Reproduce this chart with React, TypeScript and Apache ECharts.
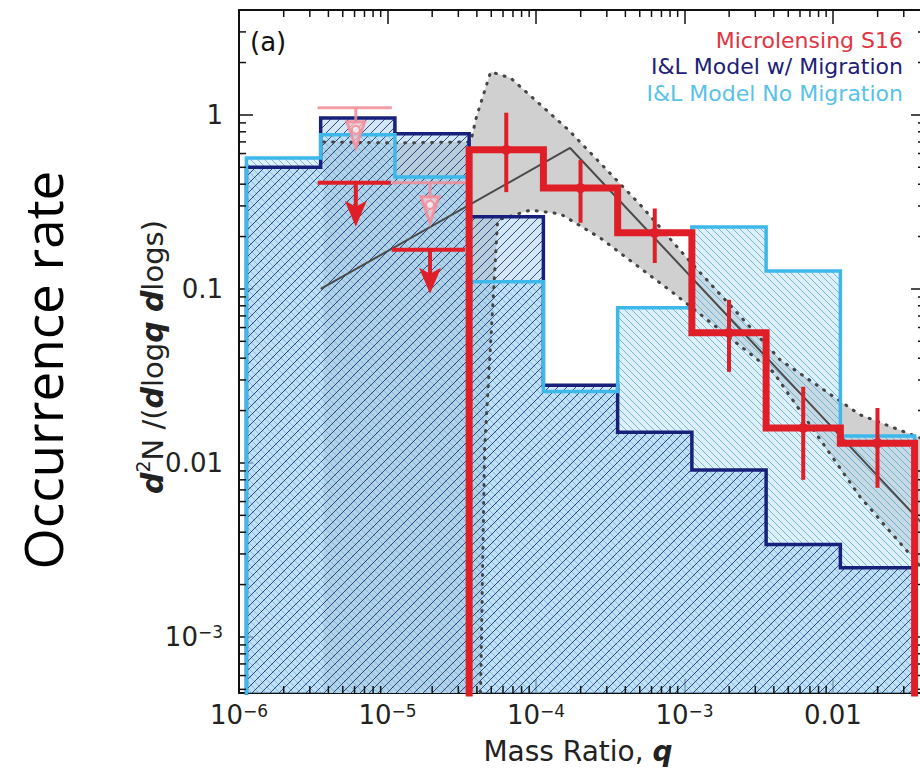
import React, { useEffect, useRef } from "react";
import * as echarts from "echarts";

// ---------------- data ----------------
// histogram bin edges, log10(q)
const binEdgesLogQ = [-5.95, -5.45, -4.95, -4.45, -3.95, -3.45, -2.95, -2.45, -1.95, -1.45];
// I&L model with migration (dark blue)
const migrationRates = [0.5, 0.96, 0.78, 0.26, 0.028, 0.015, 0.0091, 0.0034, 0.0025];
// I&L model without migration (light blue)
const noMigrationRates = [0.566, 0.77, 0.44, 0.11, 0.0257, 0.078, 0.227, 0.127, 0.0143];
// Microlensing S16 (red), starts at bin index 3
const s16FirstBin = 3;
const s16Rates = [0.63, 0.38, 0.21, 0.056, 0.0159, 0.013];
const s16ErrLow = [0.36, 0.24, 0.141, 0.0334, 0.008, 0.0072];
const s16ErrHigh = [1.03, 0.55, 0.29, 0.0866, 0.0274, 0.0207];
// upper limits (bins 1 and 2)
const limitBins = [1, 2];
const s16UpperLimits = [0.407, 0.168];
const priorUpperLimits = [1.1, 0.407];
// broken power-law fit
const fitLogQ = [-5.45, -3.77, -1.4];
const fitRates = [0.1, 0.646, 0.0045];
// 1-sigma band of the fit
const bandUpperLogQ = [-5.43, -4.95, -4.44, -4.40, -4.305, -4.171, -3.781, -3.297, -2.96, -2.355, -1.817, -1.38];
const bandUpperRates = [0.7, 0.69, 0.7, 0.98, 1.77, 1.63, 0.82, 0.304, 0.143, 0.0391, 0.0189, 0.0136];
const bandLowerLogQ = [-1.38, -1.817, -2.402, -3.075, -3.566, -3.835, -4.036, -4.258, -4.346, -4.386, -5.43];
const bandLowerRates = [0.00237, 0.00638, 0.0333, 0.0948, 0.196, 0.27, 0.284, 0.249, 0.0119, 0.0001, 0.0001];
// tick labels
const xLabelExps = [-6, -5, -4, -3, -2];
const xLabelTexts = ["10^−6", "10^−5", "10^−4", "10^−3", "0.01"];
const yLabelExps = [0, -1, -2, -3];
const yLabelTexts = ["1", "0.1", "0.01", "10^−3"];
const legendNames = ["Microlensing S16", "I&L Model w/ Migration", "I&L Model No Migration"];

// ---------------- styling ----------------
const RED = "#e01e28";
const NAVY = "#17207a";
const CYAN = "#3db8ea";
const PINK = "rgba(242,140,152,0.85)";
const FONT = "DejaVu Sans";

const pow10 = (e: number) => Math.pow(10, e);
const X_MIN = 1e-6;
const X_MAX = pow10(-1.38);
const Y_MIN = pow10(-3.322);
const Y_MAX = pow10(0.603);
const FLOOR = 1e-5;

const centerQ = (b: number) => pow10((binEdgesLogQ[b] + binEdgesLogQ[b + 1]) / 2);

function stepData(first: number, rates: number[]) {
  const pts: number[][] = [[pow10(binEdgesLogQ[first]), FLOOR]];
  rates.forEach((v, i) => {
    pts.push([pow10(binEdgesLogQ[first + i]), v]);
    pts.push([pow10(binEdgesLogQ[first + i + 1]), v]);
  });
  pts.push([pow10(binEdgesLogQ[first + rates.length]), FLOOR]);
  return pts;
}

const binRows = (rates: number[]) =>
  rates.map((v, i) => [pow10(binEdgesLogQ[i]), v, pow10(binEdgesLogQ[i + 1])]);

function hatchRender(dir: number, spacing: number, color: string, fill: string | null) {
  return (params: any, api: any) => {
    const qL = api.value(0), v = api.value(1), qR = api.value(2);
    const cs = params.coordSys;
    const pL = api.coord([qL, v]);
    const pR = api.coord([qR, v]);
    const x0 = Math.max(pL[0], cs.x);
    const x1 = Math.min(pR[0], cs.x + cs.width);
    const top = Math.max(pL[1], cs.y);
    const yb = cs.y + cs.height;
    const children: any[] = [];
    if (fill) {
      children.push({ type: "rect", shape: { x: x0, y: top, width: x1 - x0, height: yb - top }, style: { fill } });
    }
    if (color) {
      if (dir === 1) {
        const cStart = Math.ceil((x0 + top) / spacing) * spacing;
        for (let c = cStart; c <= x1 + yb; c += spacing) {
          const xa = Math.max(x0, c - yb), xb = Math.min(x1, c - top);
          if (xb > xa) children.push({ type: "line", shape: { x1: xa, y1: c - xa, x2: xb, y2: c - xb }, style: { stroke: color, lineWidth: 1 } });
        }
      } else {
        const cStart = Math.ceil((top - x1) / spacing) * spacing;
        for (let c = cStart; c <= yb - x0; c += spacing) {
          const xa = Math.max(x0, top - c), xb = Math.min(x1, yb - c);
          if (xb > xa) children.push({ type: "line", shape: { x1: xa, y1: c + xa, x2: xb, y2: c + xb }, style: { stroke: color, lineWidth: 1 } });
        }
      }
    }
    return { type: "group", children };
  };
}

const makeFormatter = (exps: number[], texts: string[]) => (val: number) => {
  const l = Math.log10(val);
  const e = Math.round(l);
  if (Math.abs(l - e) > 1e-4) return "";
  const idx = exps.indexOf(e);
  if (idx < 0) return "";
  const parts = texts[idx].split("^");
  return parts.length === 2 ? `{b|${parts[0]}}{s|${parts[1]}}` : `{b|${parts[0]}}`;
};

const labelRich = {
  b: { fontSize: 26, lineHeight: 26, verticalAlign: "bottom", fontFamily: FONT, color: "#222" },
  s: { fontSize: 17, lineHeight: 14, verticalAlign: "top", fontFamily: FONT, color: "#222" },
};

const frameLine = { show: true, onZero: false, lineStyle: { color: "#111", width: 2 } };
const majorTick = { show: true, inside: true, length: 14, lineStyle: { color: "#111", width: 1.5 } };

const xMinorTicks: number[][] = [];
for (const e of xLabelExps) for (const k of [2, 3, 4, 5, 6, 7, 8, 9]) {
  const q = k * pow10(e);
  if (q < X_MAX) xMinorTicks.push([q, 0.1]);
}
const yMinorTicks: number[][] = [];
for (const e of [-4, -3, -2, -1, 0]) for (const k of [2, 3, 4, 5, 6, 7, 8, 9]) {
  const v = k * pow10(e);
  if (v > Y_MIN && v < Y_MAX) yMinorTicks.push([1e-4, v]);
}

const bandPoints = [
  ...bandUpperLogQ.map((lq, i) => [pow10(lq), bandUpperRates[i]]),
  ...bandLowerLogQ.map((lq, i) => [pow10(lq), bandLowerRates[i]]),
];

function buildOption(): any {
  return {
    animation: false,
    backgroundColor: "#fff",
    grid: { left: 239, top: 10, width: 686, height: 683, containLabel: false },
    xAxis: [
      {
        type: "log", logBase: 10, min: X_MIN, max: X_MAX, position: "bottom",
        axisLine: frameLine, axisTick: majorTick, splitLine: { show: false },
        axisLabel: { formatter: makeFormatter(xLabelExps, xLabelTexts), rich: labelRich, margin: 9, showMinLabel: true, showMaxLabel: false },
      },
      {
        type: "log", logBase: 10, min: X_MIN, max: X_MAX, position: "top",
        axisLine: frameLine, axisTick: majorTick, splitLine: { show: false }, axisLabel: { show: false },
      },
    ],
    yAxis: [
      {
        type: "log", logBase: 10, min: Y_MIN, max: Y_MAX, position: "left",
        axisLine: frameLine, axisTick: majorTick, splitLine: { show: false },
        axisLabel: { formatter: makeFormatter(yLabelExps, yLabelTexts), rich: labelRich, margin: 16, showMinLabel: false, showMaxLabel: false },
      },
      {
        type: "log", logBase: 10, min: Y_MIN, max: Y_MAX, position: "right",
        axisLine: frameLine, axisTick: majorTick, splitLine: { show: false }, axisLabel: { show: false },
      },
    ],
    series: [
      // grey band (underneath)
      {
        type: "custom", name: "band", z: 1, silent: true, clip: true,
        data: [[1e-4, 0.1]],
        renderItem: (params: any, api: any) => ({
          type: "polygon",
          shape: { points: bandPoints.map((p) => api.coord(p)) },
          style: { fill: "rgb(208,208,208)" },
        }),
      },
      // light blue fill + "\" hatch
      {
        type: "custom", name: "noMigFill", z: 2, silent: true, clip: true,
        data: binRows(noMigrationRates),
        renderItem: hatchRender(-1, 7, "rgba(70,160,205,0.7)", "rgba(190,228,248,0.5)"),
      },
      // dark blue fill + "/" hatch
      {
        type: "custom", name: "migFill", z: 3, silent: true, clip: true,
        data: binRows(migrationRates),
        renderItem: hatchRender(1, 9, "rgba(25,40,110,0.85)", "rgba(150,200,235,0.42)"),
      },
      {
        type: "line", name: "bandUpper", z: 4, silent: true, symbol: "none",
        data: bandUpperLogQ.map((lq, i) => [pow10(lq), bandUpperRates[i]]),
        lineStyle: { color: "#444", width: 3, type: [1, 8], cap: "round" },
      },
      {
        type: "line", name: "bandLower", z: 4, silent: true, symbol: "none",
        data: bandLowerLogQ.slice(0, -1).map((lq, i) => [pow10(lq), bandLowerRates[i]]),
        lineStyle: { color: "#444", width: 3, type: [1, 8], cap: "round" },
      },
      {
        type: "line", name: "fit", z: 4, silent: true, symbol: "none",
        data: fitLogQ.map((lq, i) => [pow10(lq), fitRates[i]]),
        lineStyle: { color: "#4a4a4a", width: 2 },
      },
      {
        type: "line", name: legendNames[1], z: 5, silent: true, symbol: "none",
        data: stepData(0, migrationRates),
        lineStyle: { color: NAVY, width: 3.5, join: "miter" },
      },
      {
        type: "line", name: legendNames[2], z: 6, silent: true, symbol: "none",
        data: stepData(0, noMigrationRates),
        lineStyle: { color: CYAN, width: 3.5, join: "miter" },
      },
      // prior (pink) upper limits
      {
        type: "custom", name: "priorLimits", z: 7, silent: true, clip: false,
        data: limitBins.map((b, i) => [centerQ(b), priorUpperLimits[i], pow10(binEdgesLogQ[b]), pow10(binEdgesLogQ[b + 1])]),
        renderItem: (params: any, api: any) => {
          const q = api.value(0), v = api.value(1);
          const pl = api.coord([api.value(2), v]);
          const pr = api.coord([api.value(3), v]);
          const pc = api.coord([q, v]);
          const x = pc[0] - 2, y = pc[1];
          return {
            type: "group",
            children: [
              { type: "line", shape: { x1: pl[0] - 3, y1: y, x2: pr[0] - 3, y2: y }, style: { stroke: PINK, lineWidth: 3 } },
              { type: "line", shape: { x1: x, y1: y, x2: x, y2: y + 16 }, style: { stroke: PINK, lineWidth: 3 } },
              { type: "polygon", shape: { points: [[x - 9, y + 14], [x + 9, y + 14], [x, y + 40]] }, style: { fill: "rgba(250,200,205,0.7)", stroke: PINK, lineWidth: 3 } },
              { type: "circle", shape: { cx: x, cy: y + 22, r: 4 }, style: { fill: "rgba(255,255,255,0.6)", stroke: PINK, lineWidth: 2 } },
            ],
          };
        },
      },
      {
        type: "line", name: legendNames[0], z: 8, silent: true, symbol: "none",
        data: stepData(s16FirstBin, s16Rates),
        lineStyle: { color: RED, width: 7, join: "miter" },
      },
      // S16 upper limits
      {
        type: "custom", name: "s16Limits", z: 9, silent: true, clip: false,
        data: limitBins.map((b, i) => [centerQ(b), s16UpperLimits[i], pow10(binEdgesLogQ[b]), pow10(binEdgesLogQ[b + 1])]),
        renderItem: (params: any, api: any) => {
          const q = api.value(0), v = api.value(1);
          const pl = api.coord([api.value(2), v]);
          const pr = api.coord([api.value(3), v]);
          const pc = api.coord([q, v]);
          const x = pc[0] - 2, y = pc[1];
          return {
            type: "group",
            children: [
              { type: "line", shape: { x1: pl[0] - 3, y1: y, x2: pr[0] - 4, y2: y }, style: { stroke: RED, lineWidth: 4 } },
              { type: "line", shape: { x1: x, y1: y, x2: x, y2: y + 26 }, style: { stroke: RED, lineWidth: 4 } },
              { type: "polygon", shape: { points: [[x - 11, y + 18], [x, y + 24], [x + 11, y + 18], [x, y + 44]] }, style: { fill: RED } },
            ],
          };
        },
      },
      // S16 measurements with error bars
      {
        type: "custom", name: "s16Points", z: 10, silent: true, clip: false,
        data: s16Rates.map((v, i) => [centerQ(s16FirstBin + i), v, s16ErrLow[i], s16ErrHigh[i]]),
        renderItem: (params: any, api: any) => {
          const q = api.value(0);
          const p = api.coord([q, api.value(1)]);
          const lo = api.coord([q, api.value(2)]);
          const hi = api.coord([q, api.value(3)]);
          return {
            type: "group",
            children: [
              { type: "line", shape: { x1: p[0], y1: lo[1], x2: p[0], y2: hi[1] }, style: { stroke: RED, lineWidth: 4 } },
              { type: "circle", shape: { cx: p[0], cy: p[1], r: 5 }, style: { fill: RED } },
            ],
          };
        },
      },
      // minor ticks
      {
        type: "custom", name: "xMinor", z: 11, silent: true, clip: false,
        data: xMinorTicks,
        renderItem: (params: any, api: any) => {
          const p = api.coord([api.value(0), api.value(1)]);
          const cs = params.coordSys;
          const st = { stroke: "#111", lineWidth: 1.5 };
          return {
            type: "group",
            children: [
              { type: "line", shape: { x1: p[0], y1: cs.y + cs.height, x2: p[0], y2: cs.y + cs.height - 7 }, style: st },
              { type: "line", shape: { x1: p[0], y1: cs.y, x2: p[0], y2: cs.y + 7 }, style: st },
            ],
          };
        },
      },
      {
        type: "custom", name: "yMinor", z: 11, silent: true, clip: false,
        data: yMinorTicks,
        renderItem: (params: any, api: any) => {
          const p = api.coord([api.value(0), api.value(1)]);
          const cs = params.coordSys;
          const st = { stroke: "#111", lineWidth: 1.5 };
          return {
            type: "group",
            children: [
              { type: "line", shape: { x1: cs.x, y1: p[1], x2: cs.x + 7, y2: p[1] }, style: st },
              { type: "line", shape: { x1: cs.x + cs.width, y1: p[1], x2: cs.x + cs.width - 7, y2: p[1] }, style: st },
            ],
          };
        },
      },
    ],
    graphic: [
      {
        type: "text", x: 42, y: 370, rotation: Math.PI / 2,
        style: { text: "Occurrence rate", fill: "#000", fontSize: 53, fontFamily: "Open Sans", align: "center", verticalAlign: "middle" },
      },
      {
        type: "text", x: 150, y: 357, rotation: Math.PI / 2,
        style: {
          text: "{bi|d}{sup|2}{n|N /(}{bi|d}{n|log}{bi|q}{n| }{bi|d}{n|logs)}",
          fill: "#222", align: "center", verticalAlign: "middle",
          rich: {
            bi: { fontSize: 30, fontWeight: "bold", fontStyle: "italic", fontFamily: FONT, lineHeight: 34, verticalAlign: "bottom", fill: "#222" },
            n: { fontSize: 29, fontFamily: FONT, lineHeight: 34, verticalAlign: "bottom", fill: "#222" },
            sup: { fontSize: 19, fontFamily: FONT, lineHeight: 18, verticalAlign: "top", fill: "#222" },
          },
        },
      },
      {
        type: "text", x: 578, y: 751,
        style: {
          text: "{n|Mass Ratio, }{q|q}", align: "center", verticalAlign: "middle",
          rich: {
            n: { fontSize: 28, fontFamily: FONT, fill: "#222" },
            q: { fontSize: 28, fontFamily: FONT, fontWeight: "bold", fontStyle: "italic", fill: "#222" },
          },
        },
      },
      {
        type: "text", x: 250, y: 42,
        style: { text: "(a)", fill: "#111", fontSize: 26, fontFamily: FONT, align: "left", verticalAlign: "middle" },
      },
      {
        type: "text", x: 903, y: 40,
        style: { text: legendNames[0], fill: "rgb(226,52,64)", fontSize: 22, fontFamily: FONT, align: "right", verticalAlign: "middle" },
      },
      {
        type: "text", x: 903, y: 66,
        style: { text: legendNames[1], fill: "rgb(32,32,118)", fontSize: 22, fontFamily: FONT, align: "right", verticalAlign: "middle" },
      },
      {
        type: "text", x: 903, y: 93,
        style: { text: legendNames[2], fill: "rgb(88,194,232)", fontSize: 22, fontFamily: FONT, align: "right", verticalAlign: "middle" },
      },
    ],
  };
}

export default function App() {
  const ref = useRef<HTMLDivElement>(null);
  useEffect(() => {
    if (!ref.current) return;
    const chart = echarts.init(ref.current, null, { renderer: "svg" });
    chart.setOption(buildOption());
    return () => chart.dispose();
  }, []);
  return (
    <div style={{ position: "absolute", left: 0, top: 0, width: 920, height: 773, overflow: "hidden", background: "#fff" }}>
      <div ref={ref} style={{ width: 940, height: 773 }} />
    </div>
  );
}
